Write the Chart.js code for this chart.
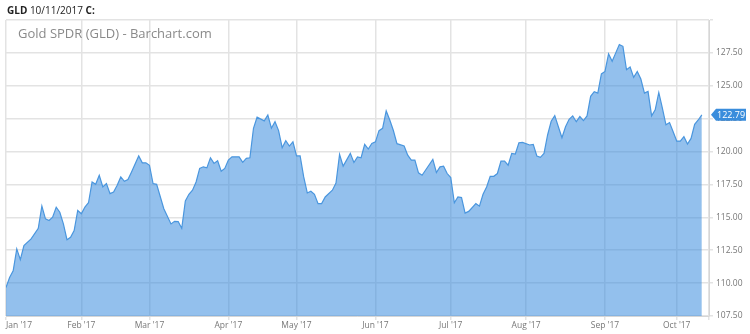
<!DOCTYPE html>
<html>
<head>
<meta charset="utf-8">
<script src="https://cdn.jsdelivr.net/npm/chart.js@4.4.0/dist/chart.umd.min.js"></script>
<style>
  html, body { margin: 0; padding: 0; background: #fff; }
  #wrap { position: relative; width: 750px; height: 334px; overflow: hidden; }
  #c { position: absolute; left: 0; top: 0; }
  #hdr { position: absolute; left: 7px; top: 4px; font-family: "Open Sans", sans-serif; font-size: 10px; color: #222; line-height: 12px; white-space: nowrap; }
  #hdr b { font-weight: 700; }
  #ttl { position: absolute; left: 18px; top: 25px; font-family: "Open Sans", sans-serif; font-size: 13px; color: #8a8a8a; line-height: 16px; white-space: nowrap; }
</style>
</head>
<body>
<div id="wrap">
  <canvas id="c" width="750" height="334"></canvas>
  <div id="hdr"><b>GLD</b> 10/11/2017 <b>C:</b></div>
  <div id="ttl">Gold SPDR (GLD) - Barchart.com</div>
</div>
<script>
// trading-day index (0 = first trading day of Jan 2017) and GLD close
const dayIndex = [0,1,2,3,4,5,7,9,10,11,12,13,14,15,16,17,18,19,20,21,22,23,24,25,26,27,28,29,30,31,32,33,34,35,37,38,39,40,41,42,44,46,47,48,49,50,51,52,53,54,55,56,57,58,59,60,61,62,63,65,66,67,68,69,70,72,73,74,75,76,77,78,79,80,81,82,83,84,85,86,87,88,89,91,92,93,94,96,97,98,99,100,101,102,103,104,105,106,107,108,109,111,112,113,114,115,116,117,119,120,121,122,123,124,125,126,127,128,129,131,132,133,134,135,136,137,138,139,140,141,142,143,144,146,147,148,149,150,151,152,153,154,155,156,157,158,159,160,161,162,163,164,165,166,167,168,169,170,171,172,173,174,175,176,177,178,179,180,181,182,183,184,185,186,187,188,189,190,191,192,193,194];
const closePrice = [109.67,110.43,110.94,112.6,111.78,112.85,113.36,114.17,115.85,114.88,114.76,115.01,115.77,115.39,114.5,113.3,113.48,113.99,115.52,115.27,115.77,116.11,117.69,117.51,118.2,117.31,117.57,116.8,116.93,117.44,118.07,117.74,117.87,118.45,119.67,119.14,119.14,118.96,117.57,117.51,115.65,114.5,114.7,114.68,114.17,116.24,116.75,117.06,117.69,118.72,118.84,118.76,119.53,119.1,119.3,118.5,118.72,119.35,119.6,119.6,119.18,119.48,119.53,121.77,122.61,122.33,122.78,121.77,122.27,121.59,120.29,120.82,120.42,120.74,119.67,119.67,118.07,116.85,116.98,116.75,116.04,116.04,116.55,117.06,117.61,119.78,118.89,119.86,119.17,119.6,119.53,120.55,120.19,120.62,120.74,121.59,121.77,123.09,122.4,121.6,120.6,120.42,119.73,119.35,119.35,118.38,118.2,118.6,119.4,118.41,118.84,118.89,118.33,118.02,116.11,116.55,116.5,115.32,115.45,116.04,115.85,116.75,117.31,118.12,118.12,118.33,119.27,119.27,118.96,119.86,119.81,120.67,120.7,120.5,120.55,119.66,119.56,119.86,121.26,122.3,122.73,121.89,121.05,121.89,122.45,122.71,122.27,122.66,122.35,122.71,124.2,124.55,124.44,125.9,126.09,127.42,126.86,127.5,128.13,128.0,126.22,126.43,125.64,126.09,125.51,124.44,124.57,122.71,123.17,124.49,123.3,122.03,122.2,121.5,120.8,120.8,121.13,120.57,121.0,122.07,122.4,122.79];
const monthTicks = [0,21,40,62,81,103,124,145,167,187];
const monthLabels = ["Jan '17","Feb '17","Mar '17","Apr '17","May '17","Jun '17","Jul '17","Aug '17","Sep '17","Oct '17"];
const lastPrice = 122.79;

const points = dayIndex.map((d, i) => ({ x: d, y: closePrice[i] }));

const priceTag = {
  id: 'priceTag',
  afterDraw(chart) {
    const ctx = chart.ctx;
    const y = chart.scales.y.getPixelForValue(lastPrice);
    const x0 = chart.chartArea.right + 2;
    const h = 12, w = 30, tip = 5;
    ctx.save();
    ctx.fillStyle = '#3a8ddc';
    ctx.beginPath();
    ctx.moveTo(x0, y);
    ctx.lineTo(x0 + tip, y - h / 2);
    ctx.lineTo(x0 + tip + w, y - h / 2);
    ctx.lineTo(x0 + tip + w, y + h / 2);
    ctx.lineTo(x0 + tip, y + h / 2);
    ctx.closePath();
    ctx.fill();
    ctx.fillStyle = '#fff';
    ctx.font = '9px "Open Sans", sans-serif';
    ctx.textBaseline = 'middle';
    ctx.textAlign = 'left';
    ctx.fillText(lastPrice.toFixed(2), x0 + tip + 1, y + 0.5);
    ctx.restore();
  }
};

new Chart(document.getElementById('c'), {
  type: 'line',
  data: {
    datasets: [{
      data: points,
      borderColor: '#4a96de',
      borderWidth: 1.2,
      backgroundColor: 'rgba(59,140,222,0.55)',
      fill: 'start',
      pointRadius: 0,
      tension: 0
    }]
  },
  options: {
    responsive: false,
    animation: false,
    devicePixelRatio: 1,
    layout: { padding: { left: 6, top: 20, right: 0, bottom: 0 } },
    plugins: { legend: { display: false }, tooltip: { enabled: false } },
    scales: {
      x: {
        type: 'linear',
        min: 0,
        max: 196,
        afterBuildTicks(scale) {
          scale.ticks = monthTicks.map(v => ({ value: v })).concat([{ value: 196 }]);
        },
        afterFit(scale) { scale.height = 18; },
        grid: { color: '#e3e3e3', lineWidth: 1.5, tickLength: 4, drawTicks: true },
        border: { color: '#d6d6d6' },
        ticks: {
          align: 'inner',
          maxRotation: 0,
          autoSkip: false,
          padding: 0,
          color: '#777',
          font: { family: '"Open Sans", sans-serif', size: 8.5 },
          callback(v) { const i = monthTicks.indexOf(v); return i >= 0 ? monthLabels[i] : ''; }
        }
      },
      y: {
        position: 'right',
        min: 107.5,
        max: 130,
        afterFit(scale) { scale.width = 41; },
        grid: { color: '#e3e3e3', lineWidth: 1.5, tickLength: 4 },
        border: { color: '#d6d6d6' },
        ticks: {
          stepSize: 2.5,
          padding: 3,
          color: '#777',
          font: { family: '"Open Sans", sans-serif', size: 8.5 },
          callback(v) { return v >= 130 ? '' : v.toFixed(2); }
        }
      }
    }
  },
  plugins: [priceTag]
});
</script>
</body>
</html>
